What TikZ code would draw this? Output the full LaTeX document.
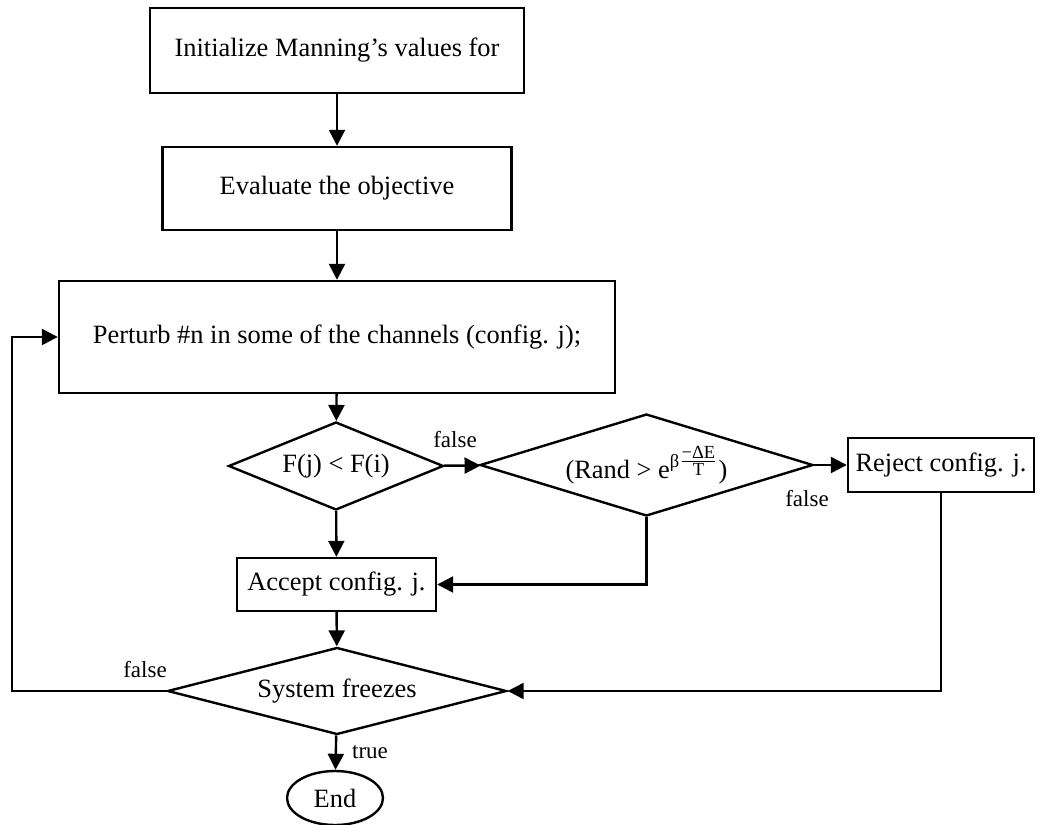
\documentclass[tikz,border=0pt]{standalone}
\usepackage{amsmath}
\usepackage{fontspec}
\setmainfont{Liberation Serif}
\usetikzlibrary{shapes.geometric,arrows.meta,positioning}

\tikzset{
  flowbox/.style={draw,line width=1.2pt,inner sep=2pt,align=center,font=\fontsize{13.2}{15}\selectfont},
  flowdec/.style={draw,diamond,line width=1.2pt,inner sep=0pt,font=\fontsize{13.2}{15}\selectfont},
  flowend/.style={draw,ellipse,line width=1.2pt,inner sep=0pt,font=\fontsize{13.2}{15}\selectfont},
  flowarrow/.style={line width=1.2pt,-{Triangle[length=8pt,width=8pt]}},
  flowlabel/.style={font=\fontsize{11.5}{13}\selectfont,inner sep=0pt}
}

\begin{document}
\begin{tikzpicture}[x=0.5pt,y=-0.5pt]
\useasboundingbox (0,0) rectangle (1038,824);
% process boxes
\node [flowbox,minimum width=187pt,minimum height=42.5pt] (init) at (337,50.5) {Initialize Manning’s values for};
\node [flowbox,minimum width=174.5pt,minimum height=41.5pt] (eval) at (337,188.5) {Evaluate the objective};
\node [flowbox,minimum width=278pt,minimum height=56pt] (perturb) at (337,337) {Perturb \#n in some of the channels (config. j);};
\node [flowbox,minimum width=99.5pt,minimum height=26.5pt] (accept) at (336.5,584.5) {Accept config. j.};
\node [flowbox,minimum width=93pt,minimum height=27pt] (reject) at (941,465) {Reject config. j.};
% decisions
\node [flowdec,aspect=2.44,minimum width=107.5pt,minimum height=44pt] (cmp) at (336,466) {F(j) < F(i)};
\node [flowdec,aspect=3.26,minimum width=166.5pt,minimum height=51pt] (rand) at (646.5,465)
  {(Rand > $\mathrm{e}^{\text{β}\genfrac{}{}{}{1}{\text{−ΔE}}{\text{T}}}$)};
\node [flowdec,aspect=3.9,minimum width=169.5pt,minimum height=43.5pt] (frz) at (337,691) {System freezes};
\node [flowend,minimum width=48pt,minimum height=27pt] (end) at (335,798) {End};
% connectors
\draw [flowarrow] (init) -- (eval);
\draw [flowarrow] (eval) -- (perturb);
\draw [flowarrow] (perturb) -- (cmp);
\draw [flowarrow] (cmp) -- (rand);
\draw [flowarrow] (rand) -- (reject);
\draw [flowarrow] (cmp) -- (accept);
\draw [flowarrow] (rand.south) |- (accept.east);
\draw [flowarrow] (accept) -- (frz);
\draw [flowarrow] (reject.south) |- (frz.east);
\coordinate (loop) at (12,691);
\draw [flowarrow] (frz.west) -- (loop) |- (perturb.west);
\draw [flowarrow] (frz) -- (end);
% labels
\node [flowlabel] (lbcmp) at (455,440) {false};
\node [flowlabel] (lbrand) at (807,499) {false};
\node [flowlabel] (lbfrz) at (145,670) {false};
\node [flowlabel] (lbtrue) at (370,752) {true};
\end{tikzpicture}
\end{document}
